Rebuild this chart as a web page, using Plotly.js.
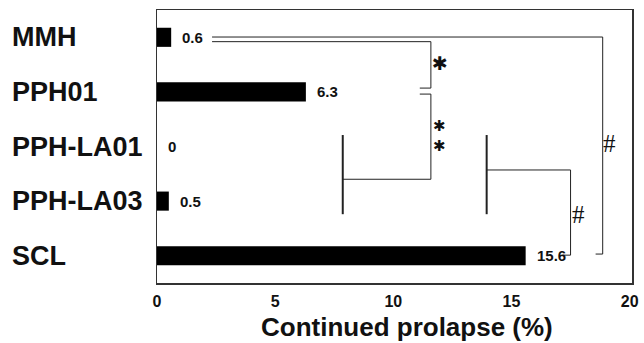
<!DOCTYPE html>
<html><head><meta charset="utf-8">
<script src="https://cdn.plot.ly/plotly-3.0.1.min.js"></script>
<style>html,body{margin:0;padding:0;background:#fff}</style>
</head><body>
<div id="chart" style="width:644px;height:343px"></div>
<script>
const categories = ["MMH", "PPH01", "PPH-LA01", "PPH-LA03", "SCL"];
const values = [0.6, 6.3, 0, 0.5, 15.6];
const valueLabels = ["0.6", "6.3", "0", "0.5", "15.6"];
const xTicks = [0, 5, 10, 15, 20];
const xTitle = "Continued prolapse (%)";

// significance brackets: polylines in data coordinates (x value, y category index)
const brackets = [
  {pts: [[2.33, -0.005], [18.86, -0.005], [18.86, 3.97], [18.56, 3.97]], w: 1},
  {pts: [[2.33, 0.08], [11.59, 0.08], [11.59, 0.93], [11.12, 0.93]], w: 1},
  {pts: [[11.12, 1.04], [11.59, 1.04], [11.59, 2.6], [7.86, 2.6]], w: 1},
  {pts: [[7.86, 1.79], [7.86, 3.24]], w: 2},
  {pts: [[13.95, 1.79], [13.95, 3.24]], w: 2},
  {pts: [[13.95, 2.43], [17.5, 2.43], [17.5, 3.99], [17.17, 3.99]], w: 1}
];
const marks = [
  {t: "✱", x: 11.97, y: 0.47, kind: "star1"},
  {t: "✱<br>✱", x: 11.97, y: 1.805, kind: "star2"},
  {t: "#", x: 19.15, y: 1.94, kind: "hash"},
  {t: "#", x: 17.84, y: 3.25, kind: "hash"}
];

const shapes = [];
brackets.forEach(b => {
  let path = b.pts.map((p, i) => (i === 0 ? "M" : "L") + p[0] + "," + p[1]).join(" ");
  shapes.push({type: "path", xref: "x", yref: "y", path: path,
    line: {color: "#222", width: b.w}});
});

const annotations = [];
categories.forEach((c, i) => {
  // category label, left aligned
  annotations.push({x: -0.309, y: c, xref: "paper", yref: "y", text: c,
    showarrow: false, xanchor: "left", yanchor: "middle",
    font: {family: "Arial, Liberation Sans", size: 27, color: "#111", weight: "bold"}});
  // value label
  annotations.push({x: values[i], y: c, xref: "x", yref: "y", text: valueLabels[i],
    showarrow: false, xanchor: "left", xshift: 9,
    font: {family: "Arial, Liberation Sans", size: 15, color: "#111", weight: "bold"}});
});
marks.forEach(m => {
  const a = {x: m.x, y: m.y, xref: "x", yref: "y", text: m.t, showarrow: false,
    xanchor: "center", yanchor: "middle"};
  if (m.kind === "hash") {
    a.font = {family: "Liberation Serif, Times New Roman", size: 25, color: "#111"};
  } else if (m.kind === "star1") {
    a.font = {family: "DejaVu Sans", size: 19, color: "#111"};
  } else {
    a.font = {family: "DejaVu Sans", size: 15, color: "#111"};
  }
  annotations.push(a);
});
// axis title (slightly right of centre, as in the reference)
annotations.push({x: 0.526, y: -0.161, xref: "paper", yref: "paper", text: xTitle,
  showarrow: false, xanchor: "center", yanchor: "middle",
  font: {family: "Arial, Liberation Sans", size: 26, color: "#111", weight: "bold"}});

const trace = {
  type: "bar", orientation: "h",
  x: values, y: categories,
  marker: {color: "#000"},
  width: 0.35,
  hoverinfo: "none"
};

const layout = {
  width: 644, height: 343,
  margin: {l: 157, r: 12, t: 10, b: 60},
  paper_bgcolor: "#fff", plot_bgcolor: "#fff",
  showlegend: false,
  font: {family: "Arial, Liberation Sans", color: "#111"},
  xaxis: {
    range: [0, 20.1], tickvals: xTicks, ticktext: xTicks.map(String),
    showgrid: false, zeroline: false, showline: true, mirror: true,
    linecolor: "#333", linewidth: 1.5, ticks: "",
    tickfont: {size: 16, weight: "bold", color: "#111"},
    ticklabelstandoff: 3
  },
  yaxis: {
    type: "category", categoryorder: "array", categoryarray: categories,
    autorange: "reversed", showticklabels: false,
    showgrid: false, zeroline: false, showline: true, mirror: true,
    linecolor: "#333", linewidth: 1.5, ticks: ""
  },
  shapes: shapes,
  annotations: annotations
};

Plotly.newPlot("chart", [trace], layout, {staticPlot: true, displayModeBar: false});
</script>
</body></html>
